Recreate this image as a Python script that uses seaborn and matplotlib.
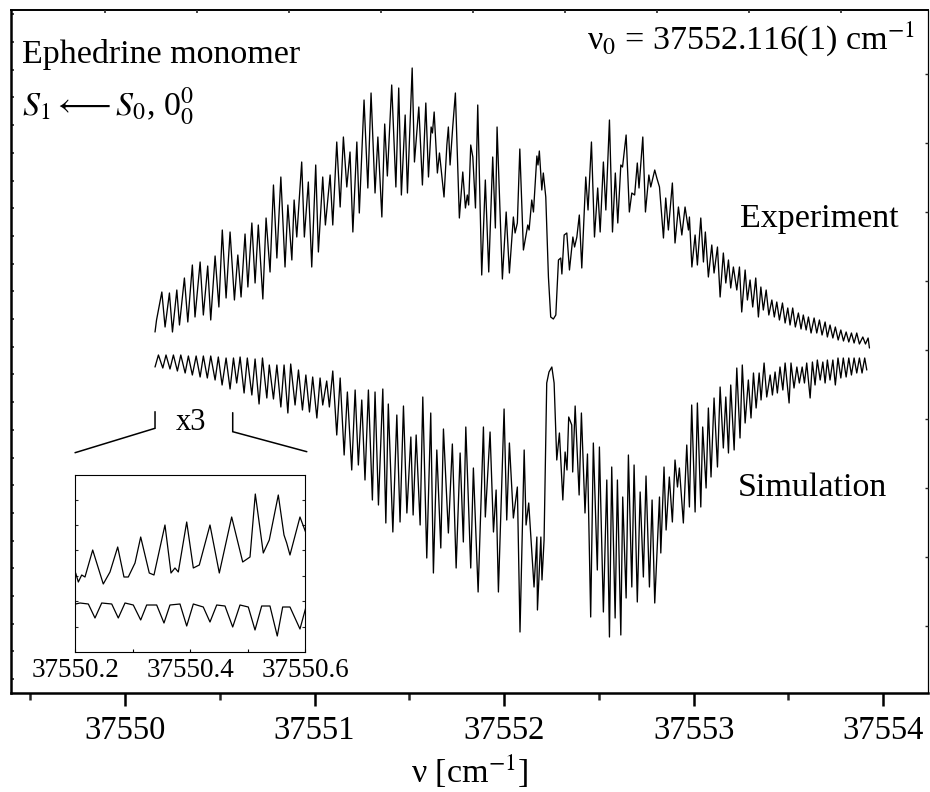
import numpy as np
import pandas as pd
import matplotlib
matplotlib.use("Agg")
import matplotlib.pyplot as plt
from matplotlib.ticker import MultipleLocator
import seaborn as sns

# Wavenumbers are stored as offsets (cm^-1) from this value
ORIGIN = 37550.0
# Common baseline: experiment drawn upward, simulation mirrored below it
BASE = 343

# ---- Experimental S1<-S0 0-0 band (offset, signal) ----
exp_offset = [
    0.158, 0.166, 0.194, 0.211, 0.234, 0.250, 0.273, 0.287, 0.313, 0.331,
    0.355, 0.369, 0.396, 0.413, 0.436, 0.452, 0.475, 0.495, 0.513, 0.533,
    0.554, 0.577, 0.595, 0.612, 0.633, 0.648, 0.669, 0.686, 0.703, 0.727,
    0.744, 0.765, 0.783, 0.801, 0.822, 0.844, 0.859, 0.880, 0.892, 0.906,
    0.932, 0.946, 0.967, 0.985, 1.006, 1.020, 1.043, 1.057, 1.082, 1.096,
    1.117, 1.135, 1.152, 1.170, 1.187, 1.202, 1.223, 1.236, 1.261, 1.281,
    1.298, 1.319, 1.334, 1.355, 1.370, 1.384, 1.407, 1.429, 1.444, 1.458,
    1.478, 1.490, 1.515, 1.527, 1.550, 1.569, 1.587, 1.601, 1.615, 1.622,
    1.631, 1.648, 1.659, 1.683, 1.698, 1.706, 1.715, 1.729, 1.743, 1.764,
    1.782, 1.796, 1.806, 1.813, 1.824, 1.835, 1.849, 1.861, 1.882, 1.901,
    1.919, 1.940, 1.954, 1.963, 1.991, 2.011, 2.028, 2.049, 2.058, 2.070,
    2.083, 2.102, 2.125, 2.132, 2.146, 2.155, 2.173, 2.179, 2.186, 2.199,
    2.207, 2.220, 2.234, 2.246, 2.260, 2.273, 2.287, 2.299, 2.305, 2.317,
    2.331, 2.345, 2.363, 2.372, 2.384, 2.397, 2.410, 2.431, 2.443, 2.461,
    2.477, 2.494, 2.507, 2.524, 2.537, 2.556, 2.572, 2.587, 2.600, 2.616,
    2.625, 2.644, 2.661, 2.674, 2.689, 2.703, 2.712, 2.732, 2.746, 2.764,
    2.774, 2.795, 2.806, 2.820, 2.841, 2.853, 2.867, 2.888, 2.902, 2.920,
    2.938, 2.955, 2.973, 2.978, 2.991, 3.008, 3.020, 3.038, 3.052, 3.062,
    3.078, 3.096, 3.108, 3.126, 3.140, 3.157, 3.170, 3.184, 3.196, 3.210,
    3.228, 3.242, 3.254, 3.272, 3.284, 3.298, 3.312, 3.328, 3.342, 3.355,
    3.368, 3.383, 3.397, 3.413, 3.426, 3.439, 3.453, 3.469, 3.483, 3.497,
    3.509, 3.523, 3.537, 3.553, 3.567, 3.579, 3.594, 3.606, 3.620, 3.636,
    3.650, 3.664, 3.678, 3.694, 3.706, 3.720, 3.735, 3.748, 3.763, 3.777,
    3.791, 3.805, 3.819, 3.833, 3.847, 3.861, 3.875, 3.893, 3.907, 3.921,
    3.928,
]
exp_signal = [
    18, 30, 58, 23, 57, 18, 60, 25, 72, 28,
    85, 33, 88, 35, 84, 30, 94, 43, 120, 52,
    118, 50, 95, 53, 116, 63, 127, 67, 125, 51,
    132, 78, 165, 92, 173, 83, 145, 90, 150, 113,
    188, 113, 168, 83, 185, 98, 173, 125, 175, 125,
    208, 143, 213, 163, 198, 118, 208, 137, 250, 162,
    257, 157, 213, 133, 226, 174, 265, 163, 262, 155,
    235, 157, 282, 188, 243, 165, 247, 173, 223, 217,
    238, 177, 197, 153, 205, 223, 185, 223, 257, 132,
    178, 142, 155, 145, 205, 193, 142, 245, 75, 170,
    78, 193, 122, 223, 71, 138, 77, 133, 117, 127,
    201, 100, 125, 120, 150, 138, 194, 185, 199, 160,
    177, 153, 73, 33, 31, 35, 90, 92, 76, 115,
    117, 80, 113, 103, 113, 135, 82, 173, 140, 208,
    113, 162, 118, 188, 140, 230, 118, 177, 127, 185,
    183, 215, 138, 157, 155, 187, 162, 213, 138, 175,
    163, 180, 172, 163, 112, 152, 120, 167, 107, 143,
    115, 143, 120, 133, 83, 115, 85, 132, 88, 118,
    73, 105, 77, 103, 53, 97, 67, 90, 62, 83,
    60, 83, 38, 80, 50, 70, 43, 72, 33, 63,
    40, 60, 35, 50, 33, 48, 30, 47, 27, 42,
    25, 42, 23, 37, 21, 35, 20, 33, 17, 32,
    17, 30, 15, 28, 13, 25, 12, 23, 10, 20,
    9, 18, 8, 17, 7, 17, 6, 13, 6, 12,
    2,
]

# ---- Simulated band (offset, signal), plotted inverted ----
sim_offset = [
    0.158, 0.176, 0.199, 0.216, 0.237, 0.255, 0.276, 0.294, 0.317, 0.334,
    0.355, 0.375, 0.396, 0.413, 0.434, 0.452, 0.475, 0.492, 0.512, 0.533,
    0.554, 0.572, 0.589, 0.607, 0.628, 0.645, 0.669, 0.686, 0.707, 0.725,
    0.748, 0.761, 0.783, 0.801, 0.822, 0.839, 0.859, 0.874, 0.897, 0.915,
    0.936, 0.954, 0.973, 0.990, 1.012, 1.029, 1.043, 1.064, 1.078, 1.096,
    1.117, 1.135, 1.156, 1.173, 1.196, 1.214, 1.231, 1.249, 1.266, 1.284,
    1.305, 1.319, 1.337, 1.360, 1.376, 1.389, 1.413, 1.434, 1.451, 1.469,
    1.487, 1.508, 1.520, 1.536, 1.557, 1.571, 1.592, 1.613, 1.627, 1.645,
    1.666, 1.680, 1.706, 1.727, 1.747, 1.768, 1.785, 1.798, 1.824, 1.838,
    1.863, 1.891, 1.901, 1.926, 1.944, 1.958, 1.970, 2.000, 2.014, 2.028,
    2.049, 2.070, 2.084, 2.106, 2.116, 2.130, 2.158, 2.173, 2.176, 2.194,
    2.200, 2.211, 2.225, 2.237, 2.252, 2.264, 2.278, 2.292, 2.310, 2.322,
    2.332, 2.341, 2.357, 2.362, 2.375, 2.396, 2.408, 2.427, 2.440, 2.457,
    2.471, 2.492, 2.503, 2.524, 2.542, 2.556, 2.568, 2.586, 2.598, 2.616,
    2.626, 2.644, 2.656, 2.674, 2.686, 2.703, 2.718, 2.735, 2.749, 2.767,
    2.781, 2.795, 2.820, 2.827, 2.844, 2.855, 2.872, 2.888, 2.902, 2.915,
    2.925, 2.946, 2.964, 2.978, 2.990, 3.008, 3.020, 3.038, 3.048, 3.066,
    3.078, 3.092, 3.108, 3.126, 3.140, 3.157, 3.170, 3.184, 3.196, 3.214,
    3.228, 3.245, 3.257, 3.272, 3.289, 3.303, 3.316, 3.330, 3.346, 3.356,
    3.372, 3.386, 3.404, 3.416, 3.430, 3.442, 3.456, 3.471, 3.483, 3.504,
    3.514, 3.530, 3.545, 3.558, 3.573, 3.585, 3.597, 3.615, 3.627, 3.641,
    3.653, 3.668, 3.682, 3.694, 3.706, 3.720, 3.735, 3.748, 3.762, 3.777,
    3.790, 3.805, 3.819, 3.833, 3.847, 3.861, 3.875, 3.889, 3.903, 3.914,
]
sim_signal = [
    17, 5, 18, 5, 19, 5, 21, 5, 23, 6,
    25, 6, 27, 6, 28, 6, 30, 7, 35, 8,
    39, 8, 33, 7, 43, 8, 45, 9, 54, 8,
    48, 15, 49, 15, 57, 15, 63, 14, 55, 20,
    60, 25, 62, 27, 68, 28, 55, 31, 57, 21,
    85, 28, 105, 42, 120, 40, 115, 50, 130, 40,
    150, 42, 155, 39, 173, 54, 182, 65, 172, 56,
    163, 87, 165, 85, 175, 47, 208, 63, 223, 100,
    198, 79, 183, 94, 218, 103, 192, 77, 218, 118,
    242, 77, 167, 82, 182, 140, 242, 59, 170, 93,
    168, 137, 282, 100, 175, 153, 237, 187, 260, 187,
    230, 190, 33, 22, 17, 33, 110, 83, 150, 102,
    120, 67, 75, 122, 56, 145, 63, 163, 104, 267,
    93, 220, 97, 262, 130, 287, 117, 268, 130, 285,
    147, 248, 105, 237, 115, 252, 142, 227, 126, 237,
    150, 253, 147, 203, 117, 180, 127, 172, 110, 137,
    118, 173, 95, 157, 55, 162, 53, 157, 77, 138,
    58, 127, 48, 117, 37, 98, 47, 103, 35, 100,
    18, 88, 15, 73, 30, 68, 23, 58, 23, 50,
    13, 47, 25, 45, 22, 43, 17, 40, 13, 53,
    13, 38, 17, 33, 17, 33, 13, 48, 12, 35,
    10, 30, 12, 33, 10, 30, 10, 35, 8, 28,
    8, 27, 8, 25, 8, 23, 8, 23, 8, 20,
]

# ---- x3 expanded view, 37550.2 - 37550.6 cm^-1 ----
zoom_exp_offset = [
    0.2003, 0.2049, 0.2108, 0.2165, 0.2299, 0.2483, 0.2600, 0.2734, 0.2843,
    0.2918, 0.3035, 0.3134, 0.3283, 0.3365, 0.3556, 0.3661, 0.3730, 0.3788,
    0.3934, 0.4049, 0.4153, 0.4339, 0.4501, 0.4716, 0.4908, 0.5035, 0.5127,
    0.5266, 0.5370, 0.5527, 0.5626, 0.5673, 0.5730, 0.5904, 0.6008,
]
zoom_exp_signal = [
    79, 70, 77, 75, 102, 68, 80, 105, 75,
    75, 89, 115, 79, 77, 127, 79, 84, 80,
    130, 84, 87, 127, 79, 135, 90, 95, 158,
    99, 112, 157, 117, 109, 97, 135, 119,
]
zoom_sim_offset = [
    0.2003, 0.2078, 0.2223, 0.2339, 0.2456, 0.2630, 0.2744, 0.2861, 0.3005,
    0.3134, 0.3238, 0.3412, 0.3539, 0.3643, 0.3817, 0.3934, 0.4049, 0.4222,
    0.4339, 0.4456, 0.4600, 0.4734, 0.4861, 0.5005, 0.5122, 0.5238, 0.5382,
    0.5509, 0.5603, 0.5730, 0.5904, 0.6008,
]
zoom_sim_signal = [
    48, 49, 48, 34, 49, 48, 34, 49, 47,
    32, 47, 47, 29, 47, 48, 26, 48, 45,
    30, 47, 46, 25, 47, 45, 22, 46, 46,
    16, 45, 45, 23, 45,
]

main_ticks = [37550, 37551, 37552, 37553, 37554]
main_tick_labels = ["37550", "37551", "37552", "37553", "37554"]
zoom_ticks = [37550.2, 37550.4, 37550.6]
zoom_tick_labels = ["37550.2", "37550.4", "37550.6"]

exp_df = pd.DataFrame({"wavenumber": ORIGIN + np.array(exp_offset),
                       "signal": BASE + np.array(exp_signal)})
sim_df = pd.DataFrame({"wavenumber": ORIGIN + np.array(sim_offset),
                       "signal": BASE - np.array(sim_signal)})
zexp_df = pd.DataFrame({"wavenumber": ORIGIN + np.array(zoom_exp_offset),
                        "signal": zoom_exp_signal})
zsim_df = pd.DataFrame({"wavenumber": ORIGIN + np.array(zoom_sim_offset),
                        "signal": zoom_sim_signal})

sns.set_theme(style="white")
plt.rcParams["font.family"] = ["Liberation Serif", "DejaVu Serif"]
plt.rcParams["mathtext.fontset"] = "stix"

fig = plt.figure(figsize=(9.3, 7.92), dpi=100)
fig.patch.set_facecolor("white")
ax = fig.add_axes([0.01183, 0.125, 0.98602, 0.86237])
ax.set_facecolor("white")

line_kw = dict(estimator=None, sort=False, color="black", legend=False)
sns.lineplot(data=exp_df, x="wavenumber", y="signal", ax=ax, lw=0.95, **line_kw)
sns.lineplot(data=sim_df, x="wavenumber", y="signal", ax=ax, lw=0.95, **line_kw)

ax.set_xlim(37549.398, 37554.237)
ax.set_ylim(0, 683)
ax.set_xticks(main_ticks)
ax.set_xticklabels(main_tick_labels)
ax.xaxis.set_minor_locator(MultipleLocator(0.5))
ax.tick_params(axis="x", which="major", direction="out", length=9.5, width=1.8,
               labelsize=23.5, pad=6.5, top=False, bottom=True, colors="black")
ax.tick_params(axis="x", which="minor", direction="out", length=5, width=1.8,
               top=False, bottom=True)
ax.set_yticks(np.arange(13.85, 683, 27.7))
ax.set_yticklabels([])
ax.tick_params(axis="y", which="both", direction="in", length=2.2, width=1.2,
               left=True, right=False)
ax.set_ylabel("")
ax.set_xlabel("ν [cm$^{-1}$]", fontsize=24.5, labelpad=5, color="black")
for side, lw in (("left", 1.8), ("bottom", 1.8), ("top", 1.4), ("right", 0.9)):
    ax.spines[side].set_visible(True)
    ax.spines[side].set_linewidth(lw)
    ax.spines[side].set_color("black")

# secondary tick rows along the top and right edges
axt = ax.twiny()
axt.set_xlim(ax.get_xlim())
axt.set_xticks(np.arange(37549.894, 37554.237, 0.4855))
axt.tick_params(axis="x", direction="in", length=2.2, width=1.2,
                labeltop=False, labelbottom=False, top=True, bottom=False)
axr = ax.twinx()
axr.set_ylim(ax.get_ylim())
axr.set_yticks(np.arange(67, 683, 69))
axr.tick_params(axis="y", direction="in", length=2.2, width=1.0,
                labelright=False, labelleft=False, right=True, left=False)
for a in (axt, axr):
    for s in a.spines.values():
        s.set_visible(False)
    a.grid(False)

txt = dict(transform=ax.transAxes, fontsize=24.5, color="black", va="baseline")
ax.text(0.0117, 0.9224, "Ephedrine monomer", ha="left", **txt)
ax.text(0.0117, 0.8448, r"$S_1\longleftarrow S_0$, 0$^0_0$", ha="left", **txt)
ax.text(0.9858, 0.9414, "ν$_0$ = 37552.116(1) cm$^{-1}$", ha="right", **txt)
ax.text(0.795, 0.6827, "Experiment", ha="left", **txt)
ax.text(0.7928, 0.2889, "Simulation", ha="left", **txt)

# bracket marking the expanded region
ax.plot([37550.158, 37550.158, 37549.736], [281.3, 264.7, 240.3],
        color="black", lw=1.1, solid_joinstyle="miter")
ax.plot([37550.568, 37550.568, 37550.959], [280.3, 261.3, 241.3],
        color="black", lw=1.1, solid_joinstyle="miter")
ax.text(37550.347, 270.5, "x3", ha="center", va="center", fontsize=22,
        color="black")

# expanded inset
axi = fig.add_axes([0.08118, 0.17677, 0.24731, 0.22348])
axi.set_facecolor("white")
axi.set_zorder(5)
sns.lineplot(data=zexp_df, x="wavenumber", y="signal", ax=axi, lw=0.9, **line_kw)
sns.lineplot(data=zsim_df, x="wavenumber", y="signal", ax=axi, lw=0.9, **line_kw)
axi.set_xlim(37550.2, 37550.6)
axi.set_ylim(0, 177)
axi.set_xticks(zoom_ticks)
axi.set_xticklabels(zoom_tick_labels)
axi.xaxis.set_minor_locator(MultipleLocator(0.1))
axi.tick_params(axis="x", which="both", direction="in", length=2.5, width=0.8,
                labelsize=19.5, pad=4, bottom=True, top=False, colors="black")
axi.set_yticks(np.arange(25.4, 177, 25.4))
axi.set_yticklabels([])
axi.tick_params(axis="y", direction="in", length=2.5, width=0.8,
                left=True, right=True)
axi.set_xlabel("")
axi.set_ylabel("")
for s in axi.spines.values():
    s.set_visible(True)
    s.set_linewidth(0.8)
    s.set_color("black")

fig.savefig("out.png", dpi=100, facecolor="white")
